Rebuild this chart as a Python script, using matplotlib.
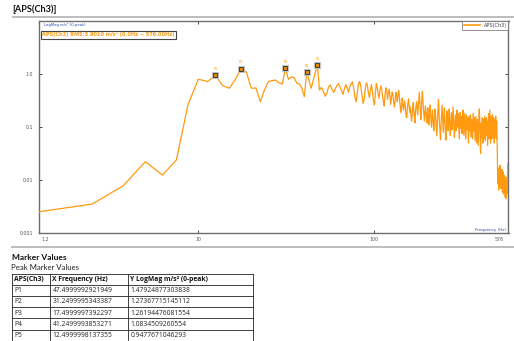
import numpy as np
import matplotlib
matplotlib.use("Agg")
import matplotlib.pyplot as plt
from matplotlib.lines import Line2D

W, H = 514, 341

# ---- spectrum: APS(Ch3), 1.25 Hz bins starting at 1.25 Hz ----
FREQ_STEP = 1.25

mag_low = [0.00255, 0.00356, 0.0079, 0.0223, 0.0125, 0.024, 0.27, 0.80, 0.72, 0.9478,
           0.60, 0.54, 0.80, 1.2619, 1.08, 0.54, 0.545, 0.30, 0.50, 0.72,
           0.75, 0.77, 0.68, 0.65, 1.2737, 0.79, 0.88, 0.86, 0.67, 0.65,
           0.545, 0.374, 1.0835, 0.77, 0.54, 0.77, 1.09, 1.4792]

mag_mid = [0.50, 0.56, 0.47, 0.38, 0.44, 0.58, 0.62, 0.51, 0.45, 0.53,
           0.60, 0.66, 0.57, 0.49, 0.41, 0.52, 0.63, 0.55, 0.46, 0.58,
           0.64, 0.71, 0.55, 0.37, 0.30, 0.45, 0.66, 0.72, 0.58, 0.40,
           0.28, 0.33, 0.52, 0.68, 0.61, 0.44, 0.36, 0.50, 0.63, 0.47,
           0.31, 0.26, 0.42, 0.66, 0.57, 0.43, 0.35, 0.49, 0.60, 0.52,
           0.38, 0.30, 0.25, 0.41, 0.55, 0.48, 0.33, 0.44, 0.52, 0.39,
           0.27, 0.36, 0.46, 0.40, 0.29, 0.24, 0.33, 0.45, 0.38, 0.30,
           0.42, 0.49, 0.36, 0.27, 0.19, 0.24, 0.35, 0.29, 0.21, 0.26,
           0.31, 0.23, 0.17, 0.15, 0.22, 0.28, 0.34, 0.25, 0.19, 0.24,
           0.18, 0.13, 0.16, 0.23, 0.29, 0.21, 0.15, 0.12, 0.19, 0.26,
           0.30, 0.22, 0.17, 0.24, 0.33, 0.45, 0.28, 0.19, 0.14, 0.21,
           0.36, 0.47, 0.31, 0.22, 0.17, 0.13, 0.19, 0.25, 0.20, 0.15]

mag_high = [0.12, 0.18, 0.23, 0.16, 0.11, 0.14, 0.20, 0.26, 0.18, 0.13,
            0.10, 0.15, 0.21, 0.17, 0.12, 0.085, 0.11, 0.16, 0.22, 0.18,
            0.13, 0.09, 0.068, 0.10, 0.15, 0.24, 0.33, 0.21, 0.14, 0.10,
            0.075, 0.058, 0.09, 0.14, 0.19, 0.26, 0.17, 0.11, 0.08, 0.12,
            0.18, 0.23, 0.15, 0.10, 0.065, 0.057, 0.09, 0.14, 0.20, 0.16,
            0.12, 0.085, 0.11, 0.17, 0.22, 0.14, 0.095, 0.07, 0.10, 0.15,
            0.19, 0.13, 0.09, 0.12, 0.18, 0.24, 0.16, 0.11, 0.08, 0.064,
            0.09, 0.13, 0.17, 0.12, 0.085, 0.11, 0.16, 0.21, 0.14, 0.10,
            0.13, 0.18, 0.12, 0.08, 0.06, 0.09, 0.14, 0.19, 0.13, 0.095,
            0.12, 0.16, 0.11, 0.075, 0.10, 0.15, 0.21, 0.14, 0.09, 0.07,
            0.10, 0.14, 0.18, 0.12, 0.085, 0.06, 0.08, 0.12, 0.17, 0.13,
            0.09, 0.11, 0.15, 0.10, 0.07, 0.05, 0.075, 0.11, 0.16, 0.12,
            0.085, 0.12, 0.17, 0.13, 0.09, 0.065, 0.10, 0.14, 0.11, 0.08,
            0.06, 0.09, 0.13, 0.18, 0.12, 0.085, 0.10, 0.15, 0.11, 0.075,
            0.055, 0.08, 0.12, 0.16, 0.11, 0.075, 0.05, 0.07, 0.10, 0.14,
            0.10, 0.07, 0.045, 0.065, 0.09, 0.13, 0.20, 0.22, 0.14, 0.09,
            0.06, 0.04, 0.032, 0.05, 0.08, 0.12, 0.09, 0.065, 0.10, 0.15,
            0.11, 0.075, 0.05, 0.07, 0.10, 0.14, 0.09, 0.06, 0.08, 0.12,
            0.16, 0.11, 0.08, 0.055, 0.075, 0.11, 0.15, 0.10, 0.07, 0.09,
            0.13, 0.09, 0.065, 0.045, 0.07, 0.10, 0.14, 0.18, 0.12, 0.085,
            0.06, 0.09, 0.13, 0.21, 0.15, 0.10, 0.07, 0.05, 0.08, 0.12,
            0.16, 0.11, 0.08, 0.06, 0.09, 0.13, 0.17, 0.12, 0.085, 0.065,
            0.09, 0.12, 0.15, 0.10, 0.07, 0.05, 0.08, 0.11, 0.14, 0.10,
            0.075, 0.11, 0.16, 0.12, 0.085, 0.06, 0.09, 0.13, 0.10, 0.07]

mag_tail = [0.038, 0.016,
            0.011, 0.0085, 0.013, 0.017, 0.012, 0.008, 0.0065, 0.0095, 0.014, 0.011,
            0.0078, 0.0105, 0.015, 0.019, 0.013, 0.009, 0.007, 0.01, 0.0135, 0.0095,
            0.007, 0.0085, 0.012, 0.016, 0.011, 0.008, 0.006, 0.0075, 0.0105, 0.0145,
            0.01, 0.0072, 0.0055, 0.0068, 0.0092, 0.0125, 0.009, 0.0065, 0.0082, 0.011,
            0.0078, 0.0058, 0.0048, 0.0062, 0.0085, 0.0115, 0.0088, 0.0062, 0.0045, 0.0058,
            0.0075, 0.0098, 0.0072, 0.0055, 0.0068, 0.0095, 0.013, 0.017, 0.021, 0.016]

magnitude = np.array(mag_low + mag_mid + mag_high + mag_tail)
freqs = FREQ_STEP * np.arange(1, len(magnitude) + 1)

# ---- peak markers ----
marker_names = ["P1", "P2", "P3", "P4", "P5"]
marker_freq = [47.4999992921949, 31.2499995343387, 17.4999997392297,
               41.2499993853271, 12.4999998137355]
marker_mag = [1.47924877303838, 1.27367715145112, 1.26194476081554,
              1.0834509260554, 0.9477671046293]
marker_freq_txt = ["47.4999992921949", "31.2499995343387", "17.4999997392297",
                   "41.2499993853271", "12.4999998137355"]
marker_mag_txt = ["1.47924877303838", "1.27367715145112", "1.26194476081554",
                  "1.0834509260554", "0.9477671046293"]

# peak bins carry the exact marker values
for f, m in zip(marker_freq, marker_mag):
    magnitude[int(round(f / FREQ_STEP)) - 1] = m

ytick_vals = [1.0, 0.1, 0.01, 0.001]
ytick_txt = ["1.0", "0.1", "0.01", "0.001"]
xtick_vals = [10, 100]
xtick_txt = ["10", "100"]

ORANGE = "#ff9a10"
BLUE = "#2a48a8"
GREY = "#6e6e6e"


def fx(px):
    return px / W


def fy(py):
    return 1 - py / H


fig = plt.figure(figsize=(W / 100, H / 100), dpi=100)
fig.patch.set_facecolor("white")

# ---- chart ----
L, R, T, B = 38.5, 508.5, 21.3, 233.3
ax = fig.add_axes([fx(L), fy(B), (R - L) / W, (B - T) / H])
ax.set_xscale("log")
ax.set_yscale("log")
ax.set_xlim(1.236, 578)
ax.set_ylim(0.001, 9.83)

ax.plot(freqs, magnitude, color=ORANGE, lw=0.9, label="APS(Ch3)",
        solid_joinstyle="round", zorder=3)

ax.plot(marker_freq, marker_mag, ls="none", marker="s", ms=4.3,
        mfc="none", mec="#c4c4c4", mew=0.8, zorder=4)
ax.plot(marker_freq, marker_mag, ls="none", marker="s", ms=3.0,
        mfc="#e08900", mec="#3a3a3a", mew=0.7, zorder=5)
for name, f, m in zip(marker_names, marker_freq, marker_mag):
    ax.annotate(name, (f, m), xytext=(0, 3.2), textcoords="offset points",
                ha="center", va="bottom", fontsize=2.6, color=ORANGE, zorder=6)

for s in ax.spines.values():
    s.set_color(GREY)
    s.set_linewidth(1.0)

ax.minorticks_off()
ax.set_xticks(xtick_vals)
ax.set_xticklabels(xtick_txt)
ax.set_yticks(ytick_vals)
ax.set_yticklabels(ytick_txt)
ax.tick_params(axis="both", which="both", direction="in", length=2.2, width=0.7,
               color="#444444", labelsize=3.4, labelcolor="#555555",
               top=True, right=True, pad=3)
ax.tick_params(axis="y", pad=4)

ax.text(0.006, -0.018, "1.2", transform=ax.transAxes, ha="left", va="top",
        fontsize=3.4, color="#555555")
ax.text(0.99, -0.018, "576", transform=ax.transAxes, ha="right", va="top",
        fontsize=3.4, color="#555555")

ax.text(0.012, 0.992, "LogMag m/s² (0-peak)", transform=ax.transAxes,
        ha="left", va="top", fontsize=2.7, color=BLUE)
ax.text(0.994, 0.006, "Frequency (Hz)", transform=ax.transAxes,
        ha="right", va="bottom", fontsize=3.0, color=BLUE)

ax.text(0.008, 0.948, "APS(Ch3) RMS:3.9010 m/s² (0.0Hz ~ 576.00Hz)",
        transform=ax.transAxes, ha="left", va="top", fontsize=3.6,
        color=ORANGE, fontweight="bold",
        bbox=dict(boxstyle="square,pad=0.25", fc="white", ec="#444444", lw=0.8))

leg = ax.legend(loc="upper right", bbox_to_anchor=(1.0, 1.0), borderaxespad=0,
                fontsize=3.6, frameon=True, fancybox=False, handlelength=3.2,
                borderpad=0.35, handletextpad=0.8)
leg.get_frame().set_edgecolor("#777777")
leg.get_frame().set_linewidth(0.7)
for t in leg.get_texts():
    t.set_color("#444444")
for h in leg.get_lines():
    h.set_linewidth(1.2)

# ---- page around the chart ----
fig.text(fx(12.5), fy(9), "[APS(Ch3)]", ha="left", va="center", fontsize=6.6,
         fontweight="bold", family="Lato", color="#111111")
fig.add_artist(Line2D([fx(13), fx(514)], [fy(16.8), fy(16.8)],
                      transform=fig.transFigure, color="#bdbdbd", lw=1.4))
fig.add_artist(Line2D([fx(12), fx(514)], [fy(246.8), fy(246.8)],
                      transform=fig.transFigure, color="#bdbdbd", lw=1.4))

fig.text(fx(12), fy(257), "Marker Values", ha="left", va="center", fontsize=6.0,
         fontweight="bold", family="Lato", color="#111111")
fig.text(fx(11), fy(267.5), "Peak Marker Values", ha="left", va="center",
         fontsize=5.6, family="Lato", color="#222222")

# marker table
col_x = [12, 50, 128, 252.5]
row_top, row_h = 273.5, 11.2
headers = ["APS(Ch3)", "X Frequency (Hz)", "Y LogMag m/s² (0-peak)"]
rows = [[n, fq, mg] for n, fq, mg in zip(marker_names, marker_freq_txt, marker_mag_txt)]
n_rows = len(rows) + 1
table_bottom = row_top + n_rows * row_h

for i in range(n_rows + 1):
    yy = row_top + i * row_h
    fig.add_artist(Line2D([fx(col_x[0]), fx(col_x[-1])], [fy(yy), fy(yy)],
                          transform=fig.transFigure, color="#222222", lw=0.6))
for xx in col_x:
    fig.add_artist(Line2D([fx(xx), fx(xx)], [fy(row_top), fy(table_bottom)],
                          transform=fig.transFigure, color="#222222", lw=0.6))

for j, h in enumerate(headers):
    fig.text(fx(col_x[j] + 2.5), fy(row_top + row_h / 2 + 0.3), h, ha="left",
             va="center", fontsize=4.9, fontweight="bold", family="Open Sans",
             color="#111111")
for i, r in enumerate(rows):
    yc = row_top + (i + 1) * row_h + row_h / 2 + 0.3
    for j, v in enumerate(r):
        fig.text(fx(col_x[j] + 2.5), fy(yc), v, ha="left", va="center",
                 fontsize=4.9, family="Open Sans", color="#222222")

fig.savefig("out.png", dpi=100)
